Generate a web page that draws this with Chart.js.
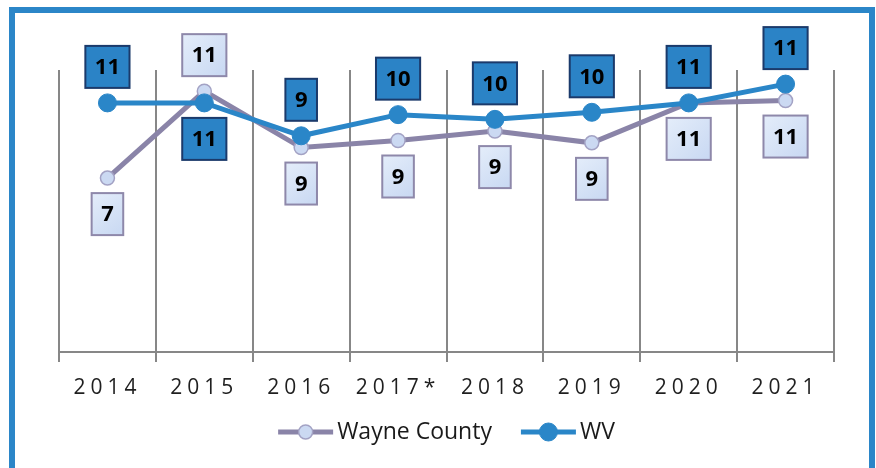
<!DOCTYPE html>
<html><head><meta charset="utf-8">
<script src="https://cdn.jsdelivr.net/npm/chart.js@4.4.0/dist/chart.umd.min.js"></script>
<style>html,body{margin:0;padding:0;background:#fff;}#wrap{width:876px;height:468px;position:relative;}</style>
</head><body><div id="wrap"><canvas id="c" width="876" height="468"></canvas></div>
<script>
const categories = ['2014', '2015', '2016', '2017*', '2018', '2019', '2020', '2021'];
const wayneCounty = [7.4, 11.1, 8.7, 9.0, 9.4, 8.9, 10.6, 10.7];
const wv = [10.6, 10.6, 9.2, 10.1, 9.9, 10.2, 10.6, 11.4];
const seriesNames = ['Wayne County', 'WV'];
const yMin = 0, yMax = 12;
// label placement (style)
const wayneLabelSide = ['below', 'above', 'below', 'below', 'below', 'below', 'below', 'below'];
const wvLabelSide = ['above', 'below', 'above', 'above', 'above', 'above', 'above', 'above'];

const FONT = '"Open Sans", "DejaVu Sans", sans-serif';
const GRID = '#878787';
const WAYNE_LINE = '#8A84A8', WAYNE_FILL = '#CBD9F2', WAYNE_PT_BORDER = '#A3A2C4';
const WV_BLUE = '#2A86C8';

const framePlugin = {
  id: 'frame',
  beforeDraw(chart) {
    const ctx = chart.ctx;
    ctx.save();
    ctx.fillStyle = '#fff';
    ctx.fillRect(0, 0, chart.width, chart.height);
    ctx.strokeStyle = '#2B86C8';
    ctx.lineWidth = 6;
    ctx.strokeRect(12, 10, 860, 470);
    ctx.restore();
    ctx.letterSpacing = '5px';
  },
  beforeDatasetsDraw(chart) {
    chart.ctx.letterSpacing = '0px';
  }
};

const labelPlugin = {
  id: 'boxLabels',
  afterDatasetsDraw(chart) {
    const ctx = chart.ctx;
    ctx.save();
    ctx.letterSpacing = '0px';
    ctx.font = 'bold 22px ' + FONT;
    ctx.textAlign = 'center';
    ctx.textBaseline = 'middle';
    const styles = [
      {fill: '#D5E2F6', stroke: '#8E88AA', sides: wayneLabelSide},
      {fill: '#2B83C6', stroke: '#1B3A6B', sides: wvLabelSide}
    ];
    chart.data.datasets.forEach((ds, di) => {
      const meta = chart.getDatasetMeta(di);
      const st = styles[di];
      meta.data.forEach((pt, i) => {
        const txt = String(Math.round(ds.data[i]));
        const w = ctx.measureText(txt).width + 19;
        const h = 42;
        let top;
        if (st.sides[i] === 'above') top = pt.y - 15 - h; else top = pt.y + 15;
        const left = pt.x - w / 2;
        if (di === 0) {
          const g = ctx.createLinearGradient(left, top, left + w, top + h);
          g.addColorStop(0, '#E4EDFA'); g.addColorStop(1, '#C8D8F2');
          ctx.fillStyle = g;
        } else ctx.fillStyle = st.fill;
        ctx.fillRect(left, top, w, h);
        ctx.strokeStyle = st.stroke;
        ctx.lineWidth = 2;
        ctx.strokeRect(left, top, w, h);
        ctx.fillStyle = '#000';
        ctx.fillText(txt, pt.x, top + h / 2 + 1);
      });
    });
    ctx.restore();
  }
};

const legendPlugin = {
  id: 'customLegend',
  afterDraw(chart) {
    const ctx = chart.ctx;
    ctx.save();
    ctx.letterSpacing = '0px';
    ctx.font = '23px ' + FONT;
    ctx.textBaseline = 'middle';
    ctx.textAlign = 'left';
    const y = 432;
    const lineLen = 55, gapText = 4, gapItems = 29;
    const items = chart.data.datasets.map(ds => ({ds, tw: ctx.measureText(ds.label).width}));
    const total = items.reduce((s, it) => s + lineLen + gapText + it.tw, 0) + gapItems * (items.length - 1);
    const ca = chart.chartArea;
    let x = (ca.left + ca.right) / 2 - total / 2;
    items.forEach(it => {
      const ds = it.ds;
      ctx.strokeStyle = ds.borderColor;
      ctx.lineWidth = ds.borderWidth;
      ctx.beginPath(); ctx.moveTo(x, y); ctx.lineTo(x + lineLen, y); ctx.stroke();
      ctx.beginPath(); ctx.arc(x + lineLen / 2, y, ds.pointRadius, 0, Math.PI * 2);
      ctx.fillStyle = ds.pointBackgroundColor; ctx.fill();
      ctx.lineWidth = ds.pointBorderWidth; ctx.strokeStyle = ds.pointBorderColor; ctx.stroke();
      ctx.fillStyle = '#1a1a1a';
      ctx.fillText(ds.label, x + lineLen + gapText, y);
      x += lineLen + gapText + it.tw + gapItems;
    });
    ctx.restore();
  }
};

new Chart(document.getElementById('c'), {
  type: 'line',
  data: {
    labels: categories,
    datasets: [
      {
        label: seriesNames[0], data: wayneCounty, order: 1,
        borderColor: WAYNE_LINE, borderWidth: 5,
        pointRadius: 7, pointBackgroundColor: WAYNE_FILL, pointBorderColor: WAYNE_PT_BORDER, pointBorderWidth: 1.5,
        tension: 0, clip: false
      },
      {
        label: seriesNames[1], data: wv, order: 0,
        borderColor: WV_BLUE, borderWidth: 5,
        pointRadius: 9, pointBackgroundColor: WV_BLUE, pointBorderColor: WV_BLUE, pointBorderWidth: 1,
        tension: 0, clip: false
      }
    ]
  },
  options: {
    responsive: false, animation: false, devicePixelRatio: 1,
    layout: {padding: {left: 59, right: 42, top: 70, bottom: 0}},
    plugins: {legend: {display: false}, tooltip: {enabled: false}},
    scales: {
      x: {
        type: 'category', offset: true,
        grid: {offset: true, color: GRID, lineWidth: 2, drawTicks: true, tickLength: 10, drawOnChartArea: true},
        border: {color: GRID, width: 2},
        ticks: {color: '#1f1f1f', font: {family: FONT, size: 21}, padding: 13, autoSkip: false, maxRotation: 0},
        afterFit(s) { s.height = 116; }
      },
      y: {display: false, min: yMin, max: yMax}
    }
  },
  plugins: [framePlugin, labelPlugin, legendPlugin]
});
</script></body></html>
